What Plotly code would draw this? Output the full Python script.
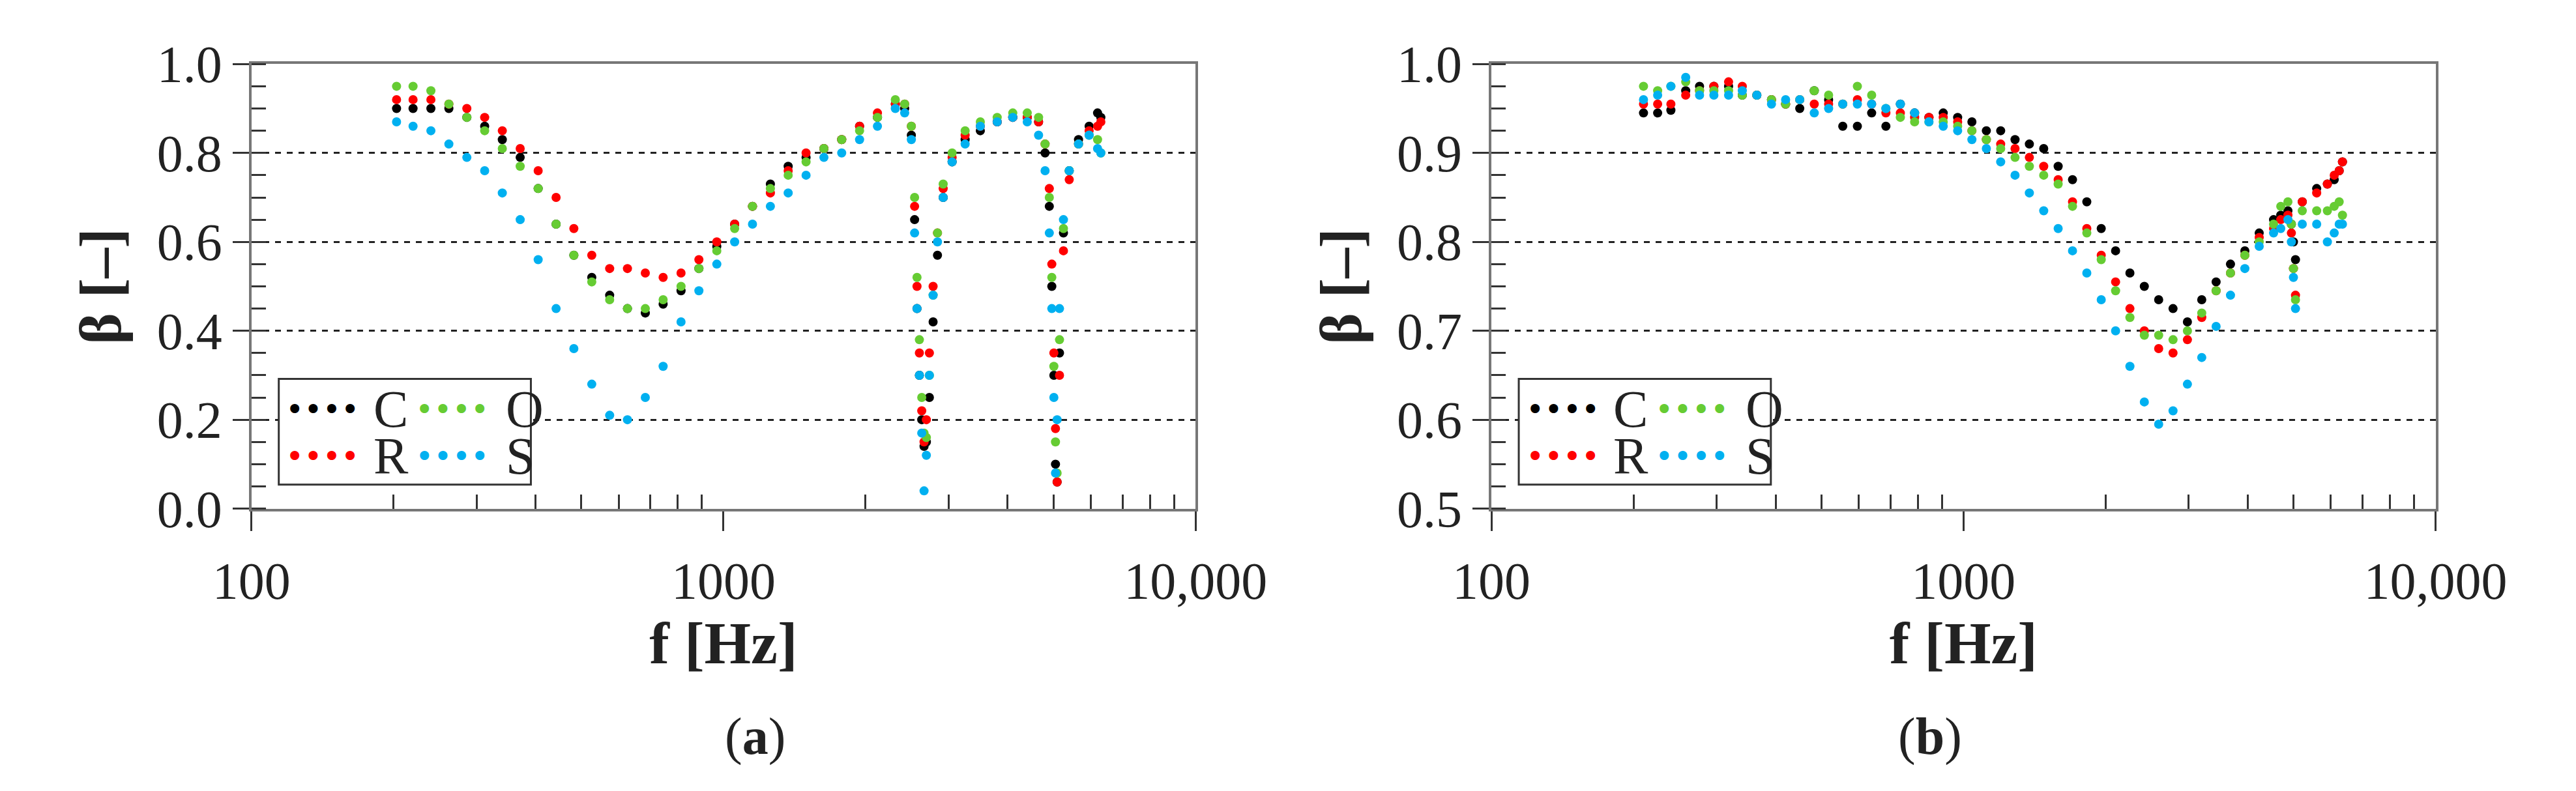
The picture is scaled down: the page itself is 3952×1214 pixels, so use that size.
import plotly.graph_objects as go

# ---- panel (a) data ----
f_a = [203, 220, 240, 262, 286, 312, 340, 371, 405, 442, 482, 526, 574, 626, 683, 745, 813, 887, 968,
       1056, 1152, 1257, 1371, 1496, 1632, 1780, 1942, 2119, 2312, 2420, 2500, 2540, 2570, 2600, 2630,
       2660, 2690, 2730, 2780, 2840, 2920, 3050, 3250, 3500, 3800, 4100, 4400, 4650, 4800, 4900, 4960,
       5010, 5050, 5090, 5150, 5250, 5400, 5650, 5950, 6200, 6300]
c_a = [.90, .90, .90, .90, .88, .86, .83, .79, .72, .64, .57, .52, .48, .45, .44, .46, .49, .54, .59,
       .64, .68, .73, .77, .79, .81, .83, .86, .88, .91, .90, .84, .65, .45, .30, .20,
       .14, .15, .25, .42, .57, .70, .78, .83, .85, .87, .88, .88, .87, .80, .68, .50,
       .30, .10, .06, .35, .62, .76, .83, .86, .89, .88]
o_a = [.95, .95, .94, .91, .88, .85, .81, .77, .72, .64, .57, .51, .47, .45, .45, .47, .50, .54, .58,
       .63, .68, .72, .75, .78, .81, .83, .85, .88, .92, .91, .86, .70, .52, .38, .25,
       .17, .16, .30, .48, .62, .73, .80, .85, .87, .88, .89, .89, .88, .82, .70, .52,
       .32, .15, .08, .38, .63, .76, .82, .84, .83, .80]
r_a = [.92, .92, .92, .91, .90, .88, .85, .81, .76, .70, .63, .57, .54, .54, .53, .52, .53, .56, .60,
       .64, .68, .71, .76, .80, .81, .83, .86, .89, .91, .91, .86, .68, .50, .35, .22,
       .15, .20, .35, .50, .62, .72, .79, .84, .86, .87, .88, .88, .87, .82, .72, .55,
       .35, .18, .06, .30, .58, .74, .82, .85, .86, .87]
s_a = [.87, .86, .85, .82, .79, .76, .71, .65, .56, .45, .36, .28, .21, .20, .25, .32, .42, .49, .55,
       .60, .64, .68, .71, .75, .79, .80, .83, .86, .90, .89, .83, .62, .45, .30, .17,
       .04, .12, .30, .48, .60, .70, .78, .82, .86, .87, .88, .87, .84, .76, .62, .45,
       .25, .08, .20, .45, .65, .76, .82, .84, .81, .80]

# ---- panel (b) data ----
f_b = [210, 225, 240, 258, 276, 296, 318, 340, 365, 392, 420, 450, 483, 518, 555, 596, 639, 685, 735,
       788, 845, 906, 972, 1042, 1118, 1199, 1286, 1379, 1479, 1587, 1702, 1825, 1958, 2100, 2252,
       2416, 2591, 2779, 2981, 3197, 3429, 3678, 3945, 4231, 4538, 4700, 4867, 4950, 5000, 5050,
       5220, 5600, 5900, 6100, 6250, 6350]
c_b = [.945, .945, .948, .97, .975, .975, .975, .965, .965, .96, .955, .95, .97, .96, .93, .93, .945, .93, .955,
       .945, .94, .945, .94, .935, .925, .925, .915, .91, .905, .885, .87, .845, .815, .79, .765,
       .75, .735, .725, .71, .735, .755, .775, .79, .81, .825, .83, .835, .82, .80, .78,
       .845, .86, .865, .87, .88, .89]
o_b = [.975, .97, .975, .98, .97, .97, .97, .965, .965, .96, .955, .96, .97, .965, .955, .975, .965, .95, .94,
       .935, .935, .935, .93, .925, .915, .905, .895, .885, .875, .865, .84, .81, .78, .745, .715,
       .695, .695, .69, .70, .72, .745, .765, .785, .80, .82, .84, .845, .82, .77, .735,
       .835, .835, .835, .84, .845, .83]
r_b = [.955, .955, .955, .965, .97, .975, .98, .975, .965, .96, .955, .96, .955, .955, .955, .96, .955, .945, .945,
       .94, .94, .94, .935, .925, .915, .91, .905, .895, .885, .87, .845, .815, .785, .755, .725,
       .70, .68, .675, .69, .715, .745, .765, .785, .805, .815, .825, .83, .81, .77, .74,
       .845, .855, .865, .875, .88, .89]
s_b = [.96, .965, .975, .985, .965, .965, .965, .97, .965, .955, .96, .96, .945, .95, .955, .955, .955, .95, .955,
       .945, .935, .93, .925, .915, .905, .89, .875, .855, .835, .815, .79, .765, .735, .70, .66,
       .62, .595, .61, .64, .67, .705, .74, .77, .795, .81, .815, .825, .80, .76, .725,
       .82, .82, .80, .81, .82, .82]

names = ["C", "R", "O", "S"]
colors = {"C": "#000000", "R": "#ff0000", "O": "#66cc33", "S": "#00b0f0"}
panel_a = {"C": c_a, "O": o_a, "R": r_a, "S": s_a}
panel_b = {"C": c_b, "O": o_b, "R": r_b, "S": s_b}

FONT = "Liberation Serif"
fig = go.Figure()

for nm in names:
    fig.add_trace(go.Scatter(x=f_a, y=panel_a[nm], mode="markers", xaxis="x", yaxis="y", showlegend=False,
                             marker=dict(color=colors[nm], size=14)))
for nm in names:
    fig.add_trace(go.Scatter(x=f_b, y=panel_b[nm], mode="markers", xaxis="x2", yaxis="y2", showlegend=False,
                             marker=dict(color=colors[nm], size=14)))

minor_x = [v * m for m in (100, 1000) for v in range(2, 10)]


def xaxis_style(dom, anchor):
    return dict(domain=dom, anchor=anchor, type="log", range=[2, 4],
                tickvals=[100, 1000, 10000], ticktext=["100", "1000", "10,000"],
                ticks="outside", ticklen=30, tickwidth=3, tickcolor="#333", ticklabelstandoff=8,
                minor=dict(tickvals=minor_x, ticks="inside", ticklen=22, tickwidth=3, tickcolor="#333"),
                showgrid=False, showline=True, linecolor="#777", linewidth=4, mirror=True,
                tickfont=dict(family=FONT, size=80, color="#222"),
                title=dict(text="<b>f [Hz]</b>", font=dict(family=FONT, size=92, color="#222"), standoff=15))


def yaxis_style(anchor, rng, dtick, minor_dt):
    return dict(domain=[0.352, 0.958], anchor=anchor, range=rng, dtick=dtick, tick0=rng[0],
                tickformat=".1f", ticks="outside", ticklen=25, tickwidth=3, tickcolor="#333",
                minor=dict(dtick=minor_dt, ticks="inside", ticklen=22, tickwidth=3, tickcolor="#333", showgrid=False),
                showgrid=True, gridcolor="#222", griddash="dash", gridwidth=3,
                showline=True, linecolor="#777", linewidth=4, mirror=True, zeroline=False,
                tickfont=dict(family=FONT, size=80, color="#222"),
                title=dict(text="<b>β [–]</b>", font=dict(family=FONT, size=92, color="#222"), standoff=25))


fig.update_layout(
    width=3952, height=1214, margin=dict(l=0, r=0, t=0, b=0),
    plot_bgcolor="white", paper_bgcolor="white",
    xaxis=xaxis_style([0.084, 0.467], "y"),
    yaxis=yaxis_style("x", [0, 1.0], 0.2, 0.05),
    xaxis2=xaxis_style([0.587, 0.970], "y2"),
    yaxis2=yaxis_style("x2", [0.5, 1.0], 0.1, 0.025),
)

# legends drawn as boxed text
legend_pos = [("C", 0.035, 0.128, 0.224), ("O", 0.172, 0.268, 0.224),
              ("R", 0.035, 0.128, 0.118), ("S", 0.172, 0.268, 0.118)]
for xr, yr in (("x", "y"), ("x2", "y2")):
    fig.add_shape(type="rect", xref=xr + " domain", yref=yr + " domain", x0=0.029, x1=0.296, y0=0.054, y1=0.292,
                  line=dict(color="#333", width=3), fillcolor="white", layer="above")
    for nm, xd, xl, yy in legend_pos:
        fig.add_annotation(xref=xr + " domain", yref=yr + " domain", x=xd, y=yy, xanchor="left", yanchor="middle",
                           text="••••", showarrow=False, font=dict(family="DejaVu Sans", size=48, color=colors[nm]))
        fig.add_annotation(xref=xr + " domain", yref=yr + " domain", x=xl, y=yy, xanchor="left", yanchor="middle",
                           text=nm, showarrow=False, font=dict(family=FONT, size=80, color="#222"))

fig.add_annotation(xref="paper", yref="paper", x=0.2755, y=0.0, yanchor="bottom", text="(<b>a</b>)",
                   showarrow=False, font=dict(family=FONT, size=80, color="#222"))
fig.add_annotation(xref="paper", yref="paper", x=0.7785, y=0.0, yanchor="bottom", text="(<b>b</b>)",
                   showarrow=False, font=dict(family=FONT, size=80, color="#222"))

fig.write_html("out.html")
